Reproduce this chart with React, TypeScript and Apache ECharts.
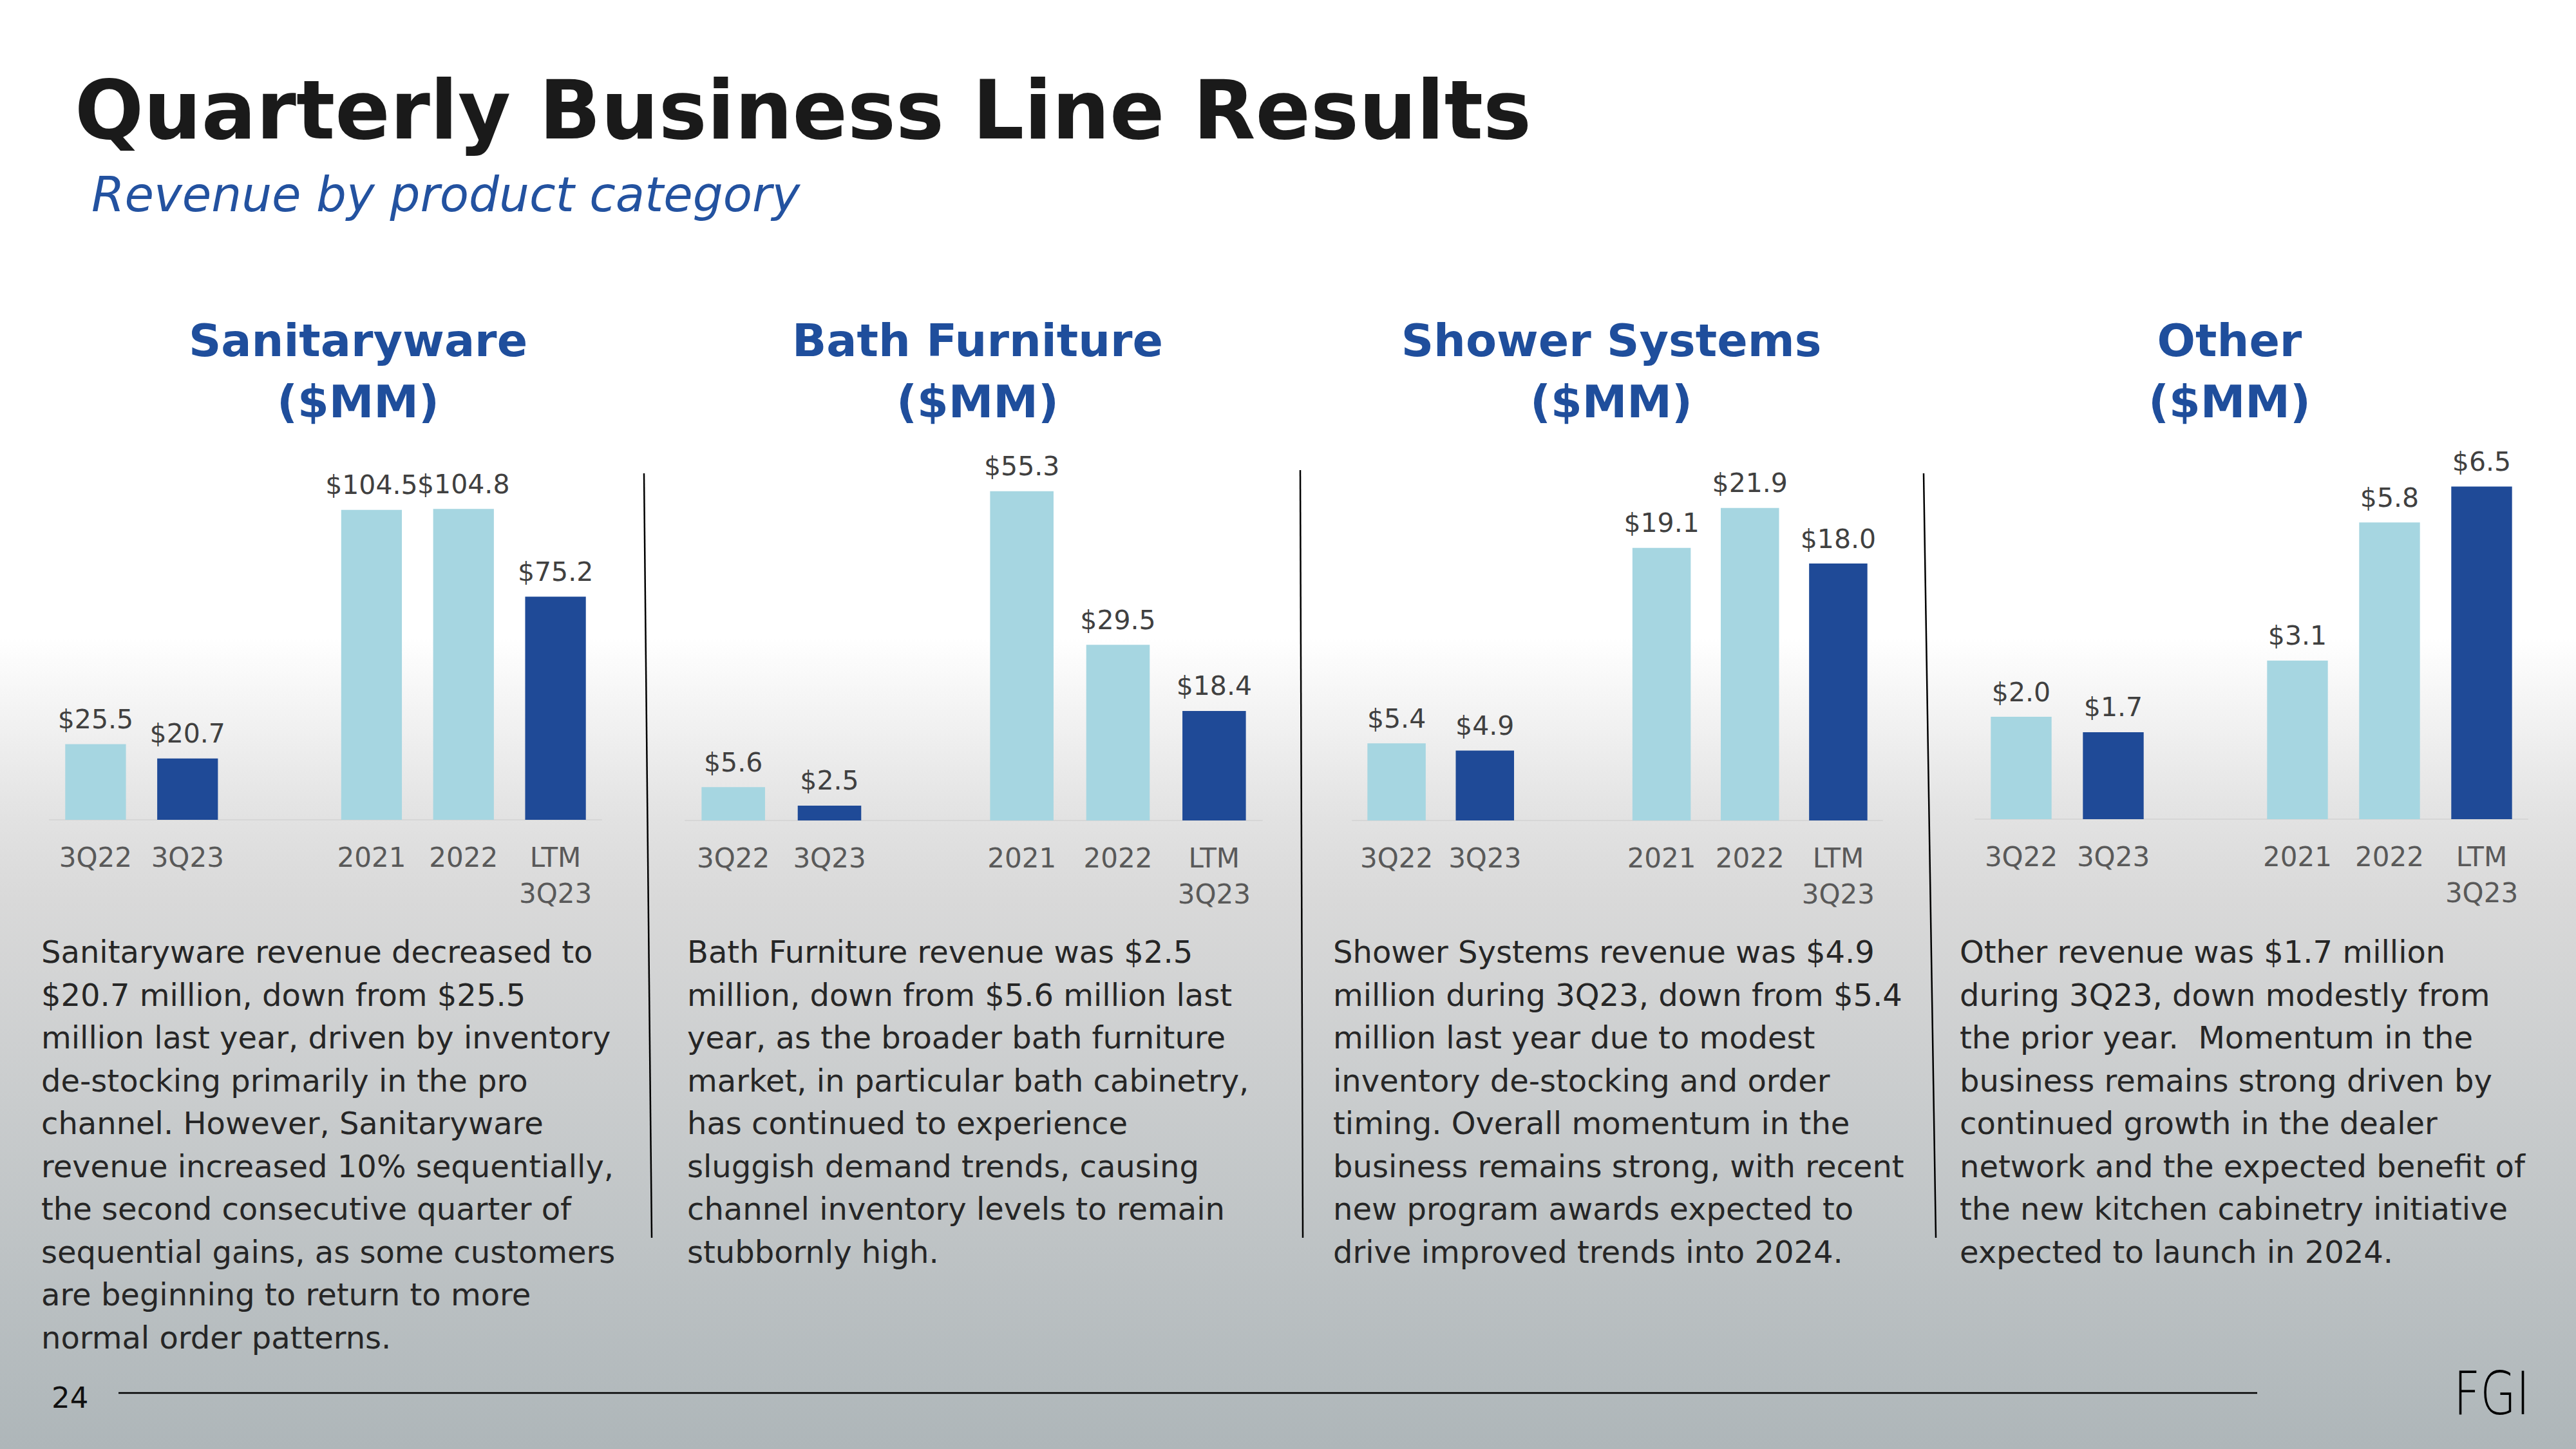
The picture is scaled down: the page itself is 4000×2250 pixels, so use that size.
import React, { useEffect, useRef } from "react";
import * as echarts from "echarts";

const categories = ["3Q22", "3Q23", "", "2021", "2022", "LTM\n3Q23"];
const panelTitles = ["Sanitaryware", "Bath Furniture", "Shower Systems", "Other"];
const unitLabel = "($MM)";
const sanitaryware = [25.5, 20.7, null, 104.5, 104.8, 75.2];
const bathFurniture = [5.6, 2.5, null, 55.3, 29.5, 18.4];
const showerSystems = [5.4, 4.9, null, 19.1, 21.9, 18.0];
const other = [2.0, 1.7, null, 3.1, 5.8, 6.5];
const panelData = [sanitaryware, bathFurniture, showerSystems, other];
const axisMax = [124.4, 62.1, 25.9, 7.2];

const mainTitle = "Quarterly Business Line Results";
const subTitle = "Revenue by product category";
const pageNumber = "24";
const logoText = "FGI";

const sanitarywareText = [
  "Sanitaryware revenue decreased to",
  "$20.7 million, down from $25.5",
  "million last year, driven by inventory",
  "de-stocking primarily in the pro",
  "channel. However, Sanitaryware",
  "revenue increased 10% sequentially,",
  "the second consecutive quarter of",
  "sequential gains, as some customers",
  "are beginning to return to more",
  "normal order patterns.",
];
const bathText = [
  "Bath Furniture revenue was $2.5",
  "million, down from $5.6 million last",
  "year, as the broader bath furniture",
  "market, in particular bath cabinetry,",
  "has continued to experience",
  "sluggish demand trends, causing",
  "channel inventory levels to remain",
  "stubbornly high.",
];
const showerText = [
  "Shower Systems revenue was $4.9",
  "million during 3Q23, down from $5.4",
  "million last year due to modest",
  "inventory de-stocking and order",
  "timing. Overall momentum in the",
  "business remains strong, with recent",
  "new program awards expected to",
  "drive improved trends into 2024.",
];
const otherText = [
  "Other revenue was $1.7 million",
  "during 3Q23, down modestly from",
  "the prior year.  Momentum in the",
  "business remains strong driven by",
  "continued growth in the dealer",
  "network and the expected benefit of",
  "the new kitchen cabinetry initiative",
  "expected to launch in 2024.",
];
const paragraphs = [sanitarywareText, bathText, showerText, otherText];

// layout / style
const LIGHT = "#A6D6E1";
const DARK = "#1F4A97";
const BLUE = "#1F4E9C";
const barColors = [LIGHT, DARK, LIGHT, LIGHT, LIGHT, DARK];
const grids = [
  { left: 77, width: 857, top: 700, height: 573 },
  { left: 1064, width: 896, top: 700, height: 574 },
  { left: 2100, width: 823, top: 700, height: 574 },
  { left: 3067, width: 858, top: 700, height: 572 },
];
const titleCenters = [556, 1518, 2502, 3462];
const paraX = [64, 1067, 2070, 3043];
const separators = [
  [1000, 735, 1012, 1922],
  [2019, 730, 2023, 1922],
  [2987, 735, 3006, 1922],
];
const FONT = "DejaVu Sans";

export default function App() {
  const ref = useRef<HTMLDivElement>(null);
  useEffect(() => {
    document.body.style.margin = "0";
    document.body.style.overflow = "hidden";
    if (!ref.current) return;
    const chart = echarts.init(ref.current, undefined, { renderer: "svg" });

    const graphic: any[] = [];
    graphic.push({
      type: "text", x: 116, y: 171, z: 10,
      style: { text: mainTitle, fill: "#1A1A1A", font: `bold 126px '${FONT}'`, align: "left", verticalAlign: "middle" },
    });
    graphic.push({
      type: "text", x: 142, y: 302, z: 10,
      style: { text: subTitle, fill: "#2352A0", font: `italic 300 74px '${FONT}'`, align: "left", verticalAlign: "middle" },
    });
    panelTitles.forEach((t, i) => {
      graphic.push({
        type: "text", x: titleCenters[i], y: 529, z: 10,
        style: { text: t, fill: BLUE, font: `bold 70px '${FONT}'`, align: "center", verticalAlign: "middle" },
      });
      graphic.push({
        type: "text", x: titleCenters[i], y: 624, z: 10,
        style: { text: unitLabel, fill: BLUE, font: `bold 70px '${FONT}'`, align: "center", verticalAlign: "middle" },
      });
    });
    paragraphs.forEach((lines, i) => {
      lines.forEach((line, j) => {
        graphic.push({
          type: "text", x: paraX[i], y: 1478 + j * 66.5, z: 10,
          style: { text: line, fill: "#262626", font: `48px '${FONT}'`, align: "left", verticalAlign: "middle" },
        });
      });
    });
    separators.forEach((s) => {
      graphic.push({
        type: "line", z: 10,
        shape: { x1: s[0], y1: s[1], x2: s[2], y2: s[3] },
        style: { stroke: "#000000", lineWidth: 2.5 },
      });
    });
    graphic.push({
      type: "line", z: 10,
      shape: { x1: 184, y1: 2163, x2: 3505, y2: 2163 },
      style: { stroke: "#000000", lineWidth: 2.5 },
    });
    graphic.push({
      type: "text", x: 80, y: 2170, z: 10,
      style: { text: pageNumber, fill: "#111111", font: `45px '${FONT}'`, align: "left", verticalAlign: "middle" },
    });
    graphic.push({
      type: "text", x: 3810, y: 2164, z: 10, scaleX: 0.78,
      style: { text: logoText, fill: "#000000", font: `200 92px '${FONT}'`, align: "left", verticalAlign: "middle" },
    });

    const option: any = {
      animation: false,
      backgroundColor: new echarts.graphic.LinearGradient(0, 0, 0, 1, [
        { offset: 0, color: "#FFFFFF" },
        { offset: 0.44, color: "#FFFFFF" },
        { offset: 0.565, color: "#E2E2E2" },
        { offset: 0.62, color: "#D9D9D9" },
        { offset: 1, color: "#AEB6B9" },
      ]),
      grid: grids.map((g) => ({ ...g, containLabel: false })),
      xAxis: grids.map((_, i) => ({
        type: "category",
        gridIndex: i,
        data: categories,
        axisLine: { show: true, lineStyle: { color: "#D6D6D6", width: 2 } },
        axisTick: { show: false },
        axisLabel: {
          interval: 0, margin: 30, color: "#595959",
          fontFamily: FONT, fontSize: 42, lineHeight: 56,
        },
      })),
      yAxis: grids.map((_, i) => ({
        type: "value", gridIndex: i, min: 0, max: axisMax[i], show: false,
        splitLine: { show: false },
      })),
      series: panelData.map((d, i) => ({
        type: "bar",
        xAxisIndex: i,
        yAxisIndex: i,
        data: d.map((v) => (v === null ? "-" : v)),
        barWidth: "66%",
        itemStyle: { color: (p: any) => barColors[p.dataIndex] },
        label: {
          show: true, position: "top", distance: 18,
          color: "#404040", fontFamily: FONT, fontSize: 41,
          formatter: (p: any) => "$" + Number(p.value).toFixed(1),
        },
      })),
      graphic,
    };
    chart.setOption(option);
    return () => chart.dispose();
  }, []);
  return <div ref={ref} style={{ width: "4000px", height: "2250px" }} />;
}
